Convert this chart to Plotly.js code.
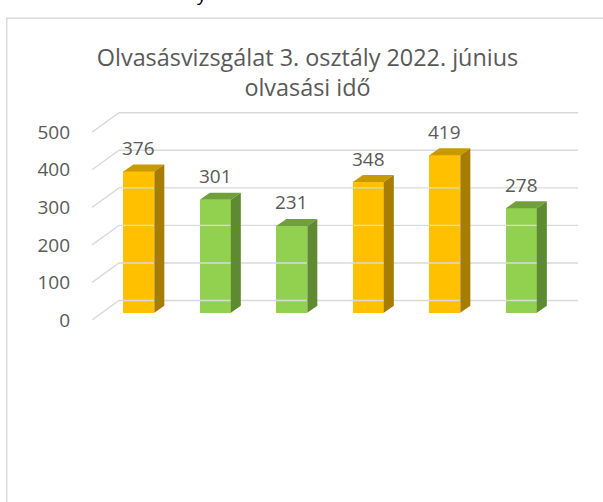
<!DOCTYPE html>
<html><head><meta charset="utf-8">
<script src="https://cdn.plot.ly/plotly-3.0.1.min.js"></script>
<style>html,body{margin:0;padding:0;background:#fff;overflow:hidden}#chart{width:603px;height:502px}</style>
</head><body><div id="chart"></div>
<script>
// ---- data ----
const categories = ['1', '2', '3', '4', '5', '6'];
const values = [376, 301, 231, 348, 419, 278];
const groups = ['a', 'b', 'b', 'a', 'a', 'b'];
const yTicks = [0, 100, 200, 300, 400, 500];
const titleText = 'Olvasásvizsgálat 3. osztály 2022. június<br>olvasási idő';

// ---- style ----
const FONT = '"Open Sans", sans-serif';
const TEXT = '#595959';
const palette = {
  a: {front: '#FFC000', top: '#C99A00', side: '#A67D00'},
  b: {front: '#92D050', top: '#6FA03C', side: '#5E8A31'}
};
const BAR_W = 0.405, BAR_BASE = 19.4, DEP_X = 0.131, DEP_Y = 18.6;
const X_MIN = -0.612, X_MAX = 5.741, WALL_X = -0.259, WALL_DY = 51.9, Y_MAX = 553.8;

const traces = [];
const gx = [], gy = [];
yTicks.forEach(t => { gx.push(X_MIN, WALL_X, X_MAX, null); gy.push(t, t + WALL_DY, t + WALL_DY, null); });
traces.push({type: 'scatter', mode: 'lines', x: gx, y: gy, line: {color: '#D9D9D9', width: 1.4},
  hoverinfo: 'skip', cliponaxis: false});

const xs = categories.map((c, i) => i);
traces.push({type: 'bar', x: xs, y: values, base: BAR_BASE, width: BAR_W,
  marker: {color: groups.map(g => palette[g].front), line: {width: 0}}, hoverinfo: 'skip'});

values.forEach((v, i) => {
  const x0 = i - BAR_W / 2, x1 = i + BAR_W / 2, yb = BAR_BASE, yt = BAR_BASE + v;
  const c = palette[groups[i]];
  traces.push({type: 'scatter', mode: 'lines', fill: 'toself', fillcolor: c.top, line: {width: 0},
    x: [x0, x1, x1 + DEP_X, x0 + DEP_X, x0], y: [yt, yt, yt + DEP_Y, yt + DEP_Y, yt],
    hoverinfo: 'skip', cliponaxis: false});
  traces.push({type: 'scatter', mode: 'lines', fill: 'toself', fillcolor: c.side, line: {width: 0},
    x: [x1, x1 + DEP_X, x1 + DEP_X, x1, x1], y: [yb, yb + DEP_Y, yt + DEP_Y, yt, yb],
    hoverinfo: 'skip', cliponaxis: false});
});

const annotations = values.map((v, i) => ({
  x: i, y: BAR_BASE + v, xref: 'x', yref: 'y', text: String(v), showarrow: false,
  xanchor: 'center', yanchor: 'middle', yshift: 23.5,
  font: {family: FONT, size: 19, color: TEXT}
}));
// clipped fragment of text above the chart frame
annotations.push({x: (202 - 92) / 486, y: (320 - 9) / 208, xref: 'paper', yref: 'paper', text: 'y', showarrow: false,
  xanchor: 'center', yanchor: 'bottom', font: {family: FONT, size: 19, color: '#000'}});

const layout = {
  width: 603, height: 502,
  margin: {l: 92, r: 25, t: 112, b: 182, pad: 0},
  paper_bgcolor: '#ffffff', plot_bgcolor: 'rgba(0,0,0,0)',
  showlegend: false,
  title: {text: titleText, font: {family: FONT, size: 23.4, color: TEXT},
    x: 307.5 / 603, xref: 'container', xanchor: 'center',
    y: 1 - 66 / 502, yref: 'container', yanchor: 'top'},
  xaxis: {range: [X_MIN, X_MAX], showgrid: false, zeroline: false, showline: false,
    showticklabels: false, ticks: '', fixedrange: true},
  yaxis: {range: [0, Y_MAX], tickvals: yTicks, ticktext: yTicks.map(String), showgrid: false,
    zeroline: false, showline: false, ticks: '', ticklabelstandoff: 21,
    tickfont: {family: FONT, size: 19, color: TEXT}, fixedrange: true},
  bargap: 0,
  annotations: annotations,
  shapes: [{type: 'rect', xref: 'paper', yref: 'paper',
    x0: (6.7 - 92) / 486, x1: (640 - 92) / 486, y0: (320 - 560) / 208, y1: (320 - 18.3) / 208,
    line: {color: '#D9D9D9', width: 1.5}, fillcolor: 'rgba(0,0,0,0)', layer: 'below'}]
};

Plotly.newPlot('chart', traces, layout, {staticPlot: true, displayModeBar: false});
</script>
</body></html>
